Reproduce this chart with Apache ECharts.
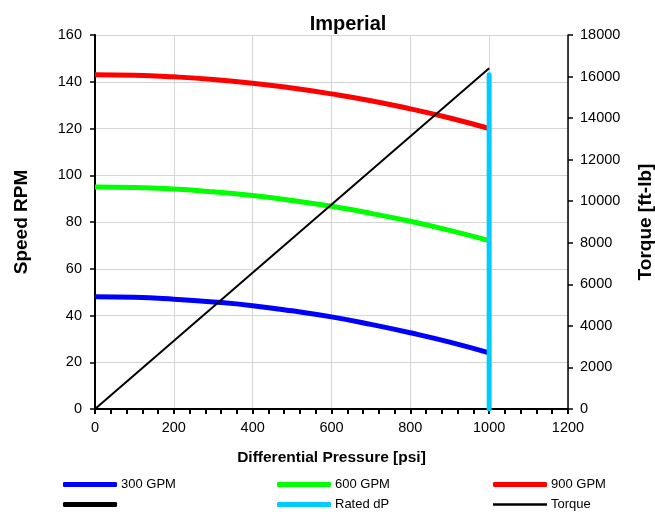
<!DOCTYPE html>
<html><head><meta charset="utf-8">
<script src="https://cdn.jsdelivr.net/npm/echarts@6/dist/echarts.min.js"></script>
<style>html,body{margin:0;padding:0;background:#fff}#c{width:655px;height:512px}</style>
</head><body><div id="c"></div>
<script>
const pressure = [0,100,200,300,400,500,600,700,800,900,1000];
const gpm300 = [48,47.8,47,45.8,44.2,42,39.4,36.2,32.6,28.6,24];
const gpm600 = [95,94.8,94.1,92.9,91.3,89.2,86.7,83.7,80.3,76.4,72];
const gpm900 = [143,142.8,142.1,141,139.4,137.3,134.8,131.9,128.4,124.5,120];
const torqueX = [0,1000];
const torqueY = [0,16400];
const ratedX = [1000,1000];
const ratedY = [0,143];
const names = ['300 GPM','600 GPM','900 GPM',' ','Rated dP','Torque'];
const colors = ['#0000ff','#00ff00','#ff0000','#000000','#00ccff','#000000'];

const pairs = (xs, ys) => xs.map((x,i)=>[x,ys[i]]);
const F = 'Liberation Sans, Arial, sans-serif';
const chart = echarts.init(document.getElementById('c'));

const legendPos = [[63,478],[277,478],[493,478],[63,498],[277,498],[493,498]];
const legends = names.map((n,i)=>({
  data:[{name:n, icon: i===5 ? 'rect' : 'roundRect'}],
  left: legendPos[i][0], top: legendPos[i][1], padding:0,
  itemWidth: 54, itemHeight: i===5 ? 2.5 : 5, itemGap: 0,
  textStyle:{fontFamily:F,fontSize:13,color:'#000',padding:[0,0,0,-1]},
  selectedMode:false
}));

chart.setOption({
  animation:false,
  title:{text:'Imperial',left:343,textAlign:'center',top:9,textStyle:{fontFamily:F,fontSize:20,fontWeight:'bold',color:'#000'}},
  legend: legends,
  grid:{left:95,right:87,top:35,bottom:103,outerBoundsMode:'none'},
  xAxis:{type:'value',min:0,max:1200,interval:200,
    name:'Differential Pressure [psi]',nameLocation:'middle',nameGap:41,nameMoveOverlap:false,
    nameTextStyle:{fontFamily:F,fontSize:15.5,fontWeight:'bold',color:'#000'},
    axisLine:{lineStyle:{color:'#000',width:2}},
    axisTick:{show:true,length:5,lineStyle:{color:'#000',width:2}},
    minorTick:{show:true,splitNumber:5,length:5,lineStyle:{color:'#000',width:2}},
    axisLabel:{fontFamily:F,fontSize:14.5,color:'#000',margin:11,formatter:v=>String(v)},
    splitLine:{show:true,lineStyle:{color:'#d4d4d4',width:1}}},
  yAxis:[
    {type:'value',min:0,max:160,interval:20,position:'left',
     name:'Speed RPM',nameLocation:'middle',nameGap:64,nameRotate:90,nameMoveOverlap:false,
     nameTextStyle:{fontFamily:F,fontSize:19,fontWeight:'bold',color:'#000'},
     axisLine:{show:true,lineStyle:{color:'#000',width:2}},
     axisTick:{show:true,length:5,lineStyle:{color:'#000',width:1.5}},
     axisLabel:{fontFamily:F,fontSize:14.5,color:'#000',margin:13,formatter:v=>String(v)},
     splitLine:{show:true,lineStyle:{color:'#d4d4d4',width:1}}},
    {type:'value',min:0,max:18000,interval:2000,position:'right',
     name:'Torque [ft-lb]',nameLocation:'middle',nameGap:68,nameRotate:90,nameMoveOverlap:false,
     nameTextStyle:{fontFamily:F,fontSize:19,fontWeight:'bold',color:'#000'},
     axisLine:{show:true,lineStyle:{color:'#000',width:1.5}},
     axisTick:{show:true,length:5,lineStyle:{color:'#000',width:1.5}},
     axisLabel:{fontFamily:F,fontSize:14.5,color:'#000',margin:12,formatter:v=>String(v)},
     splitLine:{show:false}}
  ],
  series:[
    {name:names[0],type:'line',data:pairs(pressure,gpm300),smooth:true,showSymbol:false,lineStyle:{color:colors[0],width:5},itemStyle:{color:colors[0]}},
    {name:names[1],type:'line',data:pairs(pressure,gpm600),smooth:true,showSymbol:false,lineStyle:{color:colors[1],width:5},itemStyle:{color:colors[1]}},
    {name:names[2],type:'line',data:pairs(pressure,gpm900),smooth:true,showSymbol:false,lineStyle:{color:colors[2],width:5},itemStyle:{color:colors[2]}},
    {name:names[3],type:'line',data:[],showSymbol:false,lineStyle:{color:colors[3],width:5},itemStyle:{color:colors[3]}},
    {name:names[4],type:'line',data:pairs(ratedX,ratedY),showSymbol:false,lineStyle:{color:colors[4],width:5,cap:'round'},itemStyle:{color:colors[4]}},
    {name:names[5],type:'line',yAxisIndex:1,data:pairs(torqueX,torqueY),showSymbol:false,lineStyle:{color:colors[5],width:2},itemStyle:{color:colors[5]}}
  ]
});
</script></body></html>
